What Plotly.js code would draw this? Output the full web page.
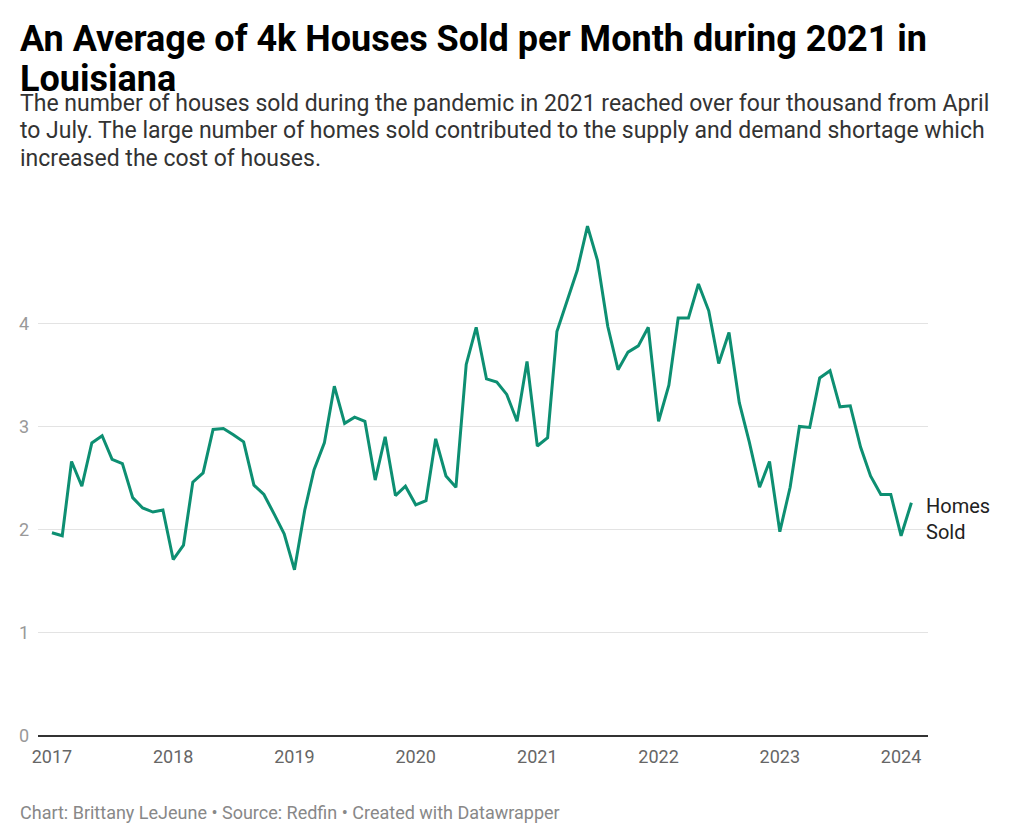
<!DOCTYPE html>
<html>
<head>
<meta charset="utf-8">
<script src="https://cdn.plot.ly/plotly-3.0.1.min.js"></script>
<style>
  html, body { margin: 0; padding: 0; background: #fff; }
  #chart { width: 1023px; height: 840px; }
</style>
</head>
<body>
<div id="chart"></div>
<script>
// Months (Jan 2017 – Feb 2024)
const months = [
  '2017-01-01','2017-02-01','2017-03-01','2017-04-01','2017-05-01','2017-06-01','2017-07-01','2017-08-01','2017-09-01','2017-10-01','2017-11-01','2017-12-01',
  '2018-01-01','2018-02-01','2018-03-01','2018-04-01','2018-05-01','2018-06-01','2018-07-01','2018-08-01','2018-09-01','2018-10-01','2018-11-01','2018-12-01',
  '2019-01-01','2019-02-01','2019-03-01','2019-04-01','2019-05-01','2019-06-01','2019-07-01','2019-08-01','2019-09-01','2019-10-01','2019-11-01','2019-12-01',
  '2020-01-01','2020-02-01','2020-03-01','2020-04-01','2020-05-01','2020-06-01','2020-07-01','2020-08-01','2020-09-01','2020-10-01','2020-11-01','2020-12-01',
  '2021-01-01','2021-02-01','2021-03-01','2021-04-01','2021-05-01','2021-06-01','2021-07-01','2021-08-01','2021-09-01','2021-10-01','2021-11-01','2021-12-01',
  '2022-01-01','2022-02-01','2022-03-01','2022-04-01','2022-05-01','2022-06-01','2022-07-01','2022-08-01','2022-09-01','2022-10-01','2022-11-01','2022-12-01',
  '2023-01-01','2023-02-01','2023-03-01','2023-04-01','2023-05-01','2023-06-01','2023-07-01','2023-08-01','2023-09-01','2023-10-01','2023-11-01','2023-12-01',
  '2024-01-01','2024-02-01'
];

// Homes sold (thousands)
const homesSold = [
  1.97, 1.94, 2.66, 2.42, 2.84, 2.91, 2.68, 2.64, 2.31, 2.21, 2.17, 2.19,
  1.71, 1.85, 2.46, 2.55, 2.97, 2.98, 2.92, 2.85, 2.43, 2.34, 2.15, 1.96,
  1.61, 2.19, 2.58, 2.84, 3.39, 3.03, 3.09, 3.05, 2.48, 2.90, 2.33, 2.42,
  2.24, 2.28, 2.88, 2.52, 2.41, 3.60, 3.96, 3.46, 3.43, 3.31, 3.05, 3.63,
  2.81, 2.89, 3.92, 4.23, 4.51, 4.94, 4.61, 3.97, 3.55, 3.72, 3.78, 3.96,
  3.05, 3.40, 4.05, 4.05, 4.38, 4.12, 3.61, 3.91, 3.23, 2.85, 2.41, 2.66,
  1.98, 2.41, 3.00, 2.99, 3.47, 3.54, 3.19, 3.20, 2.80, 2.52, 2.34, 2.34,
  1.94, 2.26
];

const yTicks = [0, 1, 2, 3, 4];
const yTickText = ['0', '1', '2', '3', '4'];
const xTicks = ['2017-01-01','2018-01-01','2019-01-01','2020-01-01','2021-01-01','2022-01-01','2023-01-01','2024-01-01'];
const xTickText = ['2017','2018','2019','2020','2021','2022','2023','2024'];

const titleLines = ['An Average of 4k Houses Sold per Month during 2021 in', 'Louisiana'];
const subtitleLines = [
  'The number of houses sold during the pandemic in 2021 reached over four thousand from April',
  'to July. The large number of homes sold contributed to the supply and demand shortage which',
  'increased the cost of houses.'
];
const footer = 'Chart: Brittany LeJeune • Source: Redfin • Created with Datawrapper';
const seriesLabel = 'Homes<br>Sold';

const FONT = 'Roboto, "Open Sans", sans-serif';
const PLOT_W = 890;
const LEFT_X = -20 / PLOT_W;

const trace = {
  x: months,
  y: homesSold,
  type: 'scatter',
  mode: 'lines',
  line: { color: '#0d8f72', width: 3 },
  hoverinfo: 'x+y',
  showlegend: false
};

const annotations = [];
titleLines.forEach((t, i) => {
  annotations.push({
    xref: 'paper', yref: 'paper', x: LEFT_X, y: 0, xanchor: 'left', yanchor: 'middle',
    yshift: (736 - (39 + i * 40)), text: '<b>' + t + '</b>', showarrow: false,
    font: { family: FONT, size: 36, color: '#000' }
  });
});
subtitleLines.forEach((t, i) => {
  annotations.push({
    xref: 'paper', yref: 'paper', x: LEFT_X, y: 0, xanchor: 'left', yanchor: 'middle',
    yshift: (736 - (103 + i * 27.5)), text: t, showarrow: false,
    font: { family: FONT, size: 23, color: '#333' }
  });
});
annotations.push({
  xref: 'paper', yref: 'paper', x: LEFT_X, y: 0, xanchor: 'left', yanchor: 'middle',
  yshift: (736 - 812), text: footer, showarrow: false,
  font: { family: FONT, size: 18, color: '#888' }
});
annotations.push({
  xref: 'paper', yref: 'y', x: 1, y: homesSold[homesSold.length - 1], xanchor: 'left', yanchor: 'middle',
  xshift: -4, yshift: -16, text: seriesLabel, showarrow: false, align: 'left',
  font: { family: FONT, size: 20, color: '#222' }
});

const layout = {
  width: 1023,
  height: 840,
  margin: { l: 38, r: 95, t: 220, b: 104 },
  paper_bgcolor: '#fff',
  plot_bgcolor: '#fff',
  font: { family: FONT, color: '#888' },
  xaxis: {
    type: 'date',
    range: ['2016-11-20', '2024-03-22'],
    tickvals: xTicks,
    ticktext: xTickText,
    showgrid: false,
    zeroline: false,
    showline: false,
    ticks: '',
    ticklabelstandoff: 8,
    tickfont: { family: FONT, size: 18, color: '#666' },
    fixedrange: true
  },
  yaxis: {
    range: [0, 5],
    tickvals: yTicks,
    ticktext: yTickText,
    showgrid: true,
    gridcolor: '#e3e3e3',
    gridwidth: 1,
    zeroline: true,
    zerolinecolor: '#333',
    zerolinewidth: 2,
    showline: false,
    ticks: '',
    ticklabelstandoff: 8,
    tickfont: { family: FONT, size: 18, color: '#999' },
    fixedrange: true
  },
  annotations: annotations
};

Plotly.newPlot('chart', [trace], layout, { displayModeBar: false, staticPlot: true });
</script>
</body>
</html>
